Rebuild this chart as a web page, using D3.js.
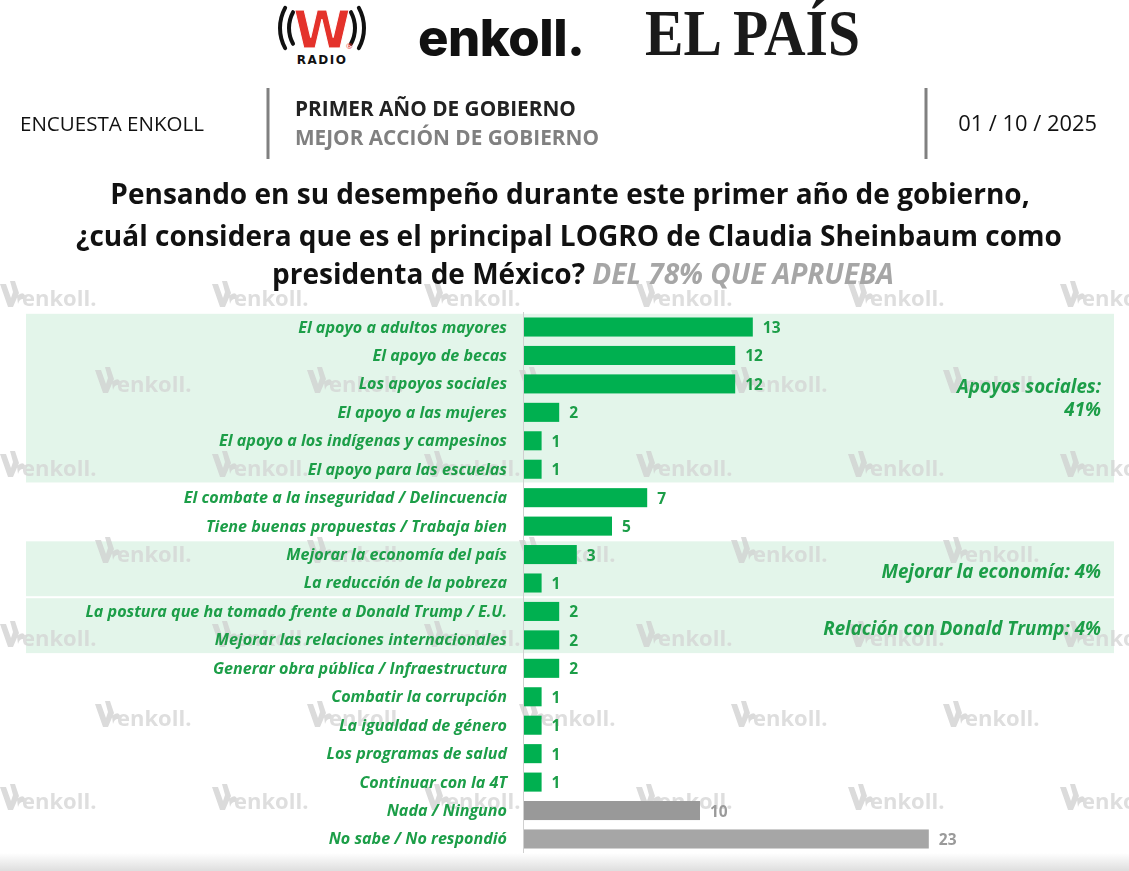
<!DOCTYPE html>
<html><head><meta charset="utf-8">
<script src="https://cdn.jsdelivr.net/npm/d3@7"></script>
<style>
html,body{margin:0;padding:0;background:#fff;}
svg{display:block;}
</style></head>
<body>
<svg id="chart" width="1129" height="871"></svg>
<script>
// ---------- DATA ----------
const categories = [
  "El apoyo a adultos mayores",
  "El apoyo de becas",
  "Los apoyos sociales",
  "El apoyo a las mujeres",
  "El apoyo a los indígenas y campesinos",
  "El apoyo para las escuelas",
  "El combate a la inseguridad / Delincuencia",
  "Tiene buenas propuestas / Trabaja bien",
  "Mejorar la economía del país",
  "La reducción de la pobreza",
  "La postura que ha tomado frente a Donald Trump / E.U.",
  "Mejorar las relaciones internacionales",
  "Generar obra pública / Infraestructura",
  "Combatir la corrupción",
  "La igualdad de género",
  "Los programas de salud",
  "Continuar con la 4T",
  "Nada / Ninguno",
  "No sabe / No respondió"
];
const values = [13, 12, 12, 2, 1, 1, 7, 5, 3, 1, 2, 2, 2, 1, 1, 1, 1, 10, 23];
const barKind = ["g","g","g","g","g","g","g","g","g","g","g","g","g","g","g","g","g","n","ns"];
const groupFirst = [0, 8, 10];
const groupLast  = [5, 9, 11];
const groupLabels = [["Apoyos sociales:", "41%"], ["Mejorar la economía: 4%"], ["Relación con Donald Trump: 4%"]];
const titleLines = [
  "Pensando en su desempeño durante este primer año de gobierno,",
  "¿cuál considera que es el principal LOGRO de Claudia Sheinbaum como",
  "presidenta de México?"
];
const titleSuffix = "DEL 78% QUE APRUEBA";
const headerLeft = "ENCUESTA ENKOLL";
const headerMid1 = "PRIMER AÑO DE GOBIERNO";
const headerMid2 = "MEJOR ACCIÓN DE GOBIERNO";
const headerDate = "01 / 10 / 2025";

// ---------- SETUP ----------
const W = 1129, H = 871;
const svg = d3.select("#chart");
const FONT = "'Open Sans', Lato, sans-serif";
const GREEN_TXT = "#1c9e48";
const GREEN_BAR = "#00b050";
const BAND_BG = "#e3f5ea";

function fit(sel, target) {
  const len = sel.node().getComputedTextLength();
  const fs = +sel.attr("font-size");
  const nfs = fs * target / len;
  sel.attr("font-size", nfs);
  return nfs;
}

const defs = svg.append("defs");
const grad = defs.append("linearGradient").attr("id","bottomShade").attr("x1",0).attr("x2",0).attr("y1",0).attr("y2",1);
grad.append("stop").attr("offset","0%").attr("stop-color","#ffffff");
grad.append("stop").attr("offset","100%").attr("stop-color","#dedede");

svg.append("rect").attr("width",W).attr("height",H).attr("fill","#fff");

const y = d3.scaleBand().domain(categories).range([312.8, 853.2]).paddingInner(0.33).paddingOuter(0.165);
const x = d3.scaleLinear().domain([0, 23]).range([524, 928.8]);
const step = y.step();
const rangeTop = y.range()[0];

// ---------- GROUP BANDS ----------
const gBands = svg.append("g");
groupFirst.forEach((f, i) => {
  const l = groupLast[i];
  const top = rangeTop + f * step;
  const bot = rangeTop + (l + 1) * step;
  gBands.append("rect")
    .attr("x", 26).attr("width", 1114 - 26)
    .attr("y", top + 1).attr("height", bot - top - 2)
    .attr("fill", BAND_BG);
});

// ---------- WATERMARKS ----------
const wm = svg.append("g").attr("opacity", 0.75);
const wmRows = [297, 383, 467, 553, 637, 717, 800];
wmRows.forEach((ry, ri) => {
  const off = ri % 2 === 0 ? 0 : 95;
  for (let k = -1; k < 7; k++) {
    const wx = off + k * 212;
    const g = wm.append("g").attr("transform", `translate(${wx},${ry})`);
    g.append("path")
      .attr("d", "M0,-13 L6,-13 L11,1 L13,-5 L10,-16 L15,-16 L19,-4 L13,10 L8,10 Z M17,-1 Q25,-8 26,3 Q20,0 18,7 Z")
      .attr("fill", "#cfcfcf");
    g.append("text").attr("x", 22).attr("y", 9)
      .attr("font-family", FONT).attr("font-weight", 700).attr("font-size", 22)
      .attr("fill", "#d3d3d3").text("enkoll.");
  }
});

// ---------- AXIS LINE ----------
svg.append("line").attr("x1", 523.5).attr("x2", 523.5).attr("y1", 312).attr("y2", 858)
  .attr("stroke", "#d0d0d0").attr("stroke-width", 1);

// ---------- BARS ----------
const barColor = k => k === "g" ? GREEN_BAR : (k === "n" ? "#999999" : "#a6a6a6");
const valColor = k => k === "g" ? GREEN_TXT : "#9a9a9a";
const rows = categories.map((c, i) => ({c, v: values[i], k: barKind[i]}));

svg.append("g").selectAll("rect").data(rows).join("rect")
  .attr("x", x(0)).attr("y", d => y(d.c))
  .attr("width", d => x(d.v) - x(0)).attr("height", y.bandwidth())
  .attr("fill", d => barColor(d.k));

svg.append("g").selectAll("text").data(rows).join("text")
  .attr("x", d => x(d.v) + 10).attr("y", d => y(d.c) + y.bandwidth() / 2 + 6)
  .attr("font-family", FONT).attr("font-weight", 700).attr("font-size", 15.5)
  .attr("fill", d => valColor(d.k)).text(d => d.v);

// category labels via axis
const axis = d3.axisLeft(y).tickSize(0).tickPadding(16);
const ag = svg.append("g").attr("transform", `translate(${523},0)`).call(axis);
ag.select(".domain").remove();
ag.selectAll("text")
  .attr("font-family", FONT).attr("font-weight", 700).attr("font-style", "italic")
  .attr("font-size", 14).attr("fill", GREEN_TXT);
{
  const longest = ag.selectAll("text").filter(d => d === categories[10]);
  const fs = fit(longest, 422);
  ag.selectAll("text").attr("font-size", fs).attr("dy", "0.34em");
}

// ---------- GROUP LABELS ----------
groupFirst.forEach((f, i) => {
  const l = groupLast[i];
  const mid = (rangeTop + f * step + rangeTop + (l + 1) * step) / 2;
  const lines = groupLabels[i];
  const lh = 23;
  const startY = i === 0 ? mid - 5 : mid + 9;
  lines.forEach((t, j) => {
    svg.append("text").attr("class", "gl").attr("x", 1101).attr("y", startY + j * lh)
      .attr("text-anchor", "end")
      .attr("font-family", FONT).attr("font-weight", 700).attr("font-style", "italic")
      .attr("font-size", 17).attr("fill", GREEN_TXT).text(t);
  });
});
{
  const last = svg.selectAll("text.gl").filter(function() { return this.textContent === groupLabels[2][0]; });
  const fs = fit(last, 278);
  svg.selectAll("text.gl").attr("font-size", fs);
}

// ---------- TITLE ----------
const tg = svg.append("g").attr("font-family", FONT).attr("font-weight", 700).attr("fill", "#111");
const tl1 = tg.append("text").attr("x", 570).attr("y", 204).attr("text-anchor", "middle").attr("font-size", 27).text(titleLines[0]);
const tfs = fit(tl1, 920);
tg.append("text").attr("x", 569).attr("y", 246).attr("text-anchor", "middle").attr("font-size", tfs).text(titleLines[1]);
const t3 = tg.append("text").attr("x", 583).attr("y", 284).attr("text-anchor", "middle").attr("font-size", tfs);
t3.append("tspan").text(titleLines[2] + " ");
t3.append("tspan").attr("font-style", "italic").attr("fill", "#a6a6a6").text(titleSuffix);

// ---------- HEADER ----------
const h1 = svg.append("text").attr("x", 20).attr("y", 131).attr("font-family", FONT).attr("font-size", 19).attr("fill", "#111").text(headerLeft);
fit(h1, 184);
const h2 = svg.append("text").attr("x", 295).attr("y", 116).attr("font-family", FONT).attr("font-weight", 700).attr("font-size", 19).attr("fill", "#222").text(headerMid1);
const hfs = fit(h2, 281);
svg.append("text").attr("x", 295).attr("y", 145).attr("font-family", FONT).attr("font-weight", 700).attr("font-size", hfs).attr("fill", "#808080").text(headerMid2);
const h4 = svg.append("text").attr("x", 1097).attr("y", 131).attr("text-anchor", "end").attr("font-family", FONT).attr("font-size", 19).attr("fill", "#111").text(headerDate);
fit(h4, 139);
[268, 926].forEach(lx => svg.append("rect").attr("x", lx - 1.5).attr("y", 88).attr("width", 3).attr("height", 71).attr("fill", "#808080"));

// ---------- LOGOS ----------
const wr = svg.append("g").attr("transform", "translate(322,0)");
wr.append("text").attr("x", 0).attr("y", 48).attr("text-anchor", "middle")
  .attr("font-family", "'DejaVu Sans', sans-serif").attr("font-weight", 700).attr("font-size", 52)
  .attr("fill", "#e4322b").attr("stroke", "#fff").attr("stroke-width", 1).text("W");
[[33, 4], [42, 4]].forEach(([r, sw]) => {
  [-1, 1].forEach(s => {
    const a0 = -0.5, a1 = 0.5;
    const p = d3.path();
    const base = s < 0 ? Math.PI : 0;
    p.arc(0, 28, r, base + a0, base + a1);
    wr.append("path").attr("d", p.toString()).attr("fill", "none").attr("stroke", "#111").attr("stroke-width", sw).attr("stroke-linecap", "round");
  });
});
wr.append("text").attr("x", 0).attr("y", 64).attr("text-anchor", "middle")
  .attr("font-family", "'DejaVu Sans', sans-serif").attr("font-weight", 700).attr("font-size", 12)
  .attr("letter-spacing", 1.5).attr("fill", "#111").text("RADIO");
wr.append("text").attr("x", 24).attr("y", 49).attr("font-family", FONT).attr("font-size", 8).attr("fill", "#e4322b").text("®");

const en = svg.append("text").attr("x", 418).attr("y", 56).attr("font-family", "Inter, 'Open Sans', sans-serif").attr("font-weight", 800)
  .attr("font-size", 44).attr("letter-spacing", -0.5).attr("fill", "#111").text("enkoll.");
fit(en, 166);
const ep = svg.append("text").attr("x", 0).attr("y", 0).attr("font-family", "'Liberation Serif', 'DejaVu Serif', serif").attr("font-weight", 700)
  .attr("font-size", 52).attr("fill", "#1a1a1a").text("EL PAÍS");
fit(ep, 215);
ep.attr("transform", "translate(645,55) scale(1,1.15)");

// ---------- BOTTOM SHADE ----------
svg.append("rect").attr("x", 0).attr("y", 853).attr("width", W).attr("height", 18).attr("fill", "url(#bottomShade)");
</script>
</body></html>
